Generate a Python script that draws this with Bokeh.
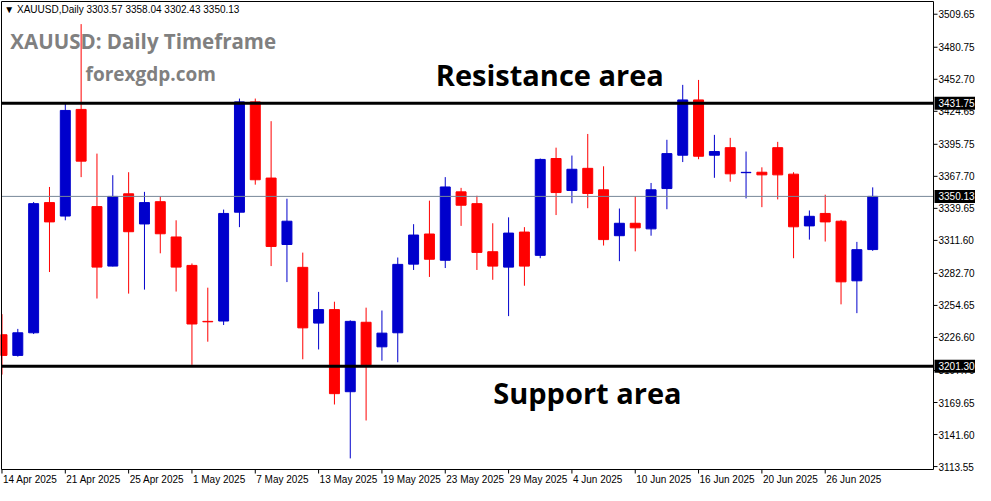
from bokeh.plotting import figure
from bokeh.models import Range1d, Label, ColumnDataSource
from bokeh.core.properties import value
from bokeh.embed import file_html
from bokeh.resources import INLINE

symbol = "XAUUSD"
timeframe = "Daily"

tick_positions = [0, 4, 8, 12, 16, 20, 24, 28, 32, 36, 40, 44, 48, 52]
tick_labels = ["14 Apr 2025", "21 Apr 2025", "25 Apr 2025", "1 May 2025", "7 May 2025",
               "13 May 2025", "19 May 2025", "23 May 2025", "29 May 2025", "4 Jun 2025",
               "10 Jun 2025", "16 Jun 2025", "20 Jun 2025", "26 Jun 2025"]

opens = [3229.0, 3210.9, 3230.7, 3344.7, 3332.9, 3426.3, 3341.2, 3289.1, 3352.4, 3326.0,
         3345.5, 3314.6, 3289.7, 3240.7, 3241.0, 3336.3, 3432.9, 3366.2, 3308.0, 3288.0,
         3239.2, 3251.0, 3179.1, 3239.9, 3218.4, 3230.7, 3290.8, 3317.2, 3294.2, 3354.1,
         3343.8, 3301.7, 3288.2, 3318.9, 3298.5, 3383.3, 3355.3, 3374.7, 3355.9, 3315.7,
         3326.6, 3321.7, 3357.0, 3386.2, 3434.6, 3386.2, 3392.8, 3370.9, 3371.3, 3392.8,
         3369.6, 3324.3, 3335.2, 3328.4, 3276.2, 3303.57]
highs = [3247.0, 3234.1, 3345.2, 3358.4, 3431.7, 3501.0, 3387.6, 3368.7, 3371.3, 3354.1,
         3350.1, 3329.2, 3291.4, 3270.2, 3338.6, 3435.8, 3435.8, 3416.0, 3348.1, 3300.9,
         3266.5, 3257.9, 3241.6, 3252.7, 3250.2, 3296.6, 3325.8, 3346.4, 3367.0, 3357.6,
         3350.7, 3326.6, 3331.8, 3323.2, 3383.3, 3392.8, 3385.9, 3404.8, 3376.5, 3339.5,
         3350.4, 3361.9, 3399.7, 3447.8, 3452.1, 3404.0, 3401.4, 3389.4, 3375.6, 3397.9,
         3371.3, 3337.8, 3351.6, 3329.5, 3310.3, 3358.04]
lows = [3194.1, 3209.8, 3229.6, 3283.9, 3329.2, 3367.0, 3260.7, 3288.8, 3265.0, 3268.5,
        3300.3, 3266.8, 3202.6, 3222.9, 3237.5, 3323.2, 3360.4, 3289.1, 3275.1, 3207.5,
        3216.1, 3167.9, 3120.7, 3153.9, 3206.3, 3204.9, 3285.7, 3279.6, 3287.4, 3324.3,
        3285.7, 3277.1, 3245.3, 3271.9, 3296.0, 3333.8, 3344.1, 3339.8, 3307.1, 3293.4,
        3302.0, 3315.7, 3338.9, 3380.2, 3382.7, 3366.4, 3363.0, 3348.4, 3340.7, 3347.5,
        3296.0, 3312.3, 3310.6, 3255.6, 3247.9, 3302.43]
closes = [3210.9, 3230.7, 3343.8, 3327.8, 3425.4, 3381.0, 3288.2, 3350.1, 3319.2, 3344.7,
          3317.4, 3288.2, 3238.4, 3240.3, 3335.2, 3432.9, 3364.7, 3306.3, 3328.4, 3235.0,
          3251.0, 3177.4, 3240.7, 3202.6, 3230.4, 3290.6, 3316.3, 3295.1, 3358.4, 3342.4,
          3301.1, 3289.1, 3318.0, 3289.1, 3382.5, 3353.5, 3373.9, 3352.7, 3312.3, 3326.6,
          3322.6, 3355.9, 3387.6, 3434.6, 3385.3, 3389.4, 3369.9, 3371.2, 3369.0, 3369.0,
          3323.5, 3332.7, 3327.8, 3275.3, 3303.5, 3350.13]

price_ticks = [3509.65, 3480.75, 3452.70, 3424.65, 3395.75, 3367.70, 3339.65, 3311.60,
               3282.70, 3254.65, 3226.60, 3197.70, 3169.65, 3141.60, 3113.55]

resistance = 3431.75
support = 3201.30

UP = "#0000CC"
DOWN = "#FF0000"
GRAY_TXT = "#808080"
BID = "#778899"
FONT = "Liberation Sans"

# ---- layout (canvas pixels) ----
W, H = 975, 485
CL, CR, CT, CB = 1, 933, 1, 469          # chart box inside the canvas
X0, X1 = -0.03, 58.84                     # visible bars in the chart box
Y0, Y1 = 3110.98, 3520.8                  # visible prices in the chart box
sx = (CR - CL) / (X1 - X0)
sy = (CB - CT) / (Y1 - Y0)
dx = 1.0 / sx                             # one pixel in bar units
dy = 1.0 / sy                             # one pixel in price units

p = figure(width=W, height=H, output_backend="svg", toolbar_location=None,
           x_axis_location=None, y_axis_location=None,
           x_range=Range1d(X0 - CL * dx, X1 + (W - CR) * dx),
           y_range=Range1d(Y0 - (H - CB) * dy, Y1 + CT * dy),
           min_border=0)
p.background_fill_color = "white"
p.border_fill_color = "white"
p.outline_line_color = None
p.grid.visible = False

idx = list(range(len(opens)))
up = [i for i in idx if closes[i] >= opens[i]]
dn = [i for i in idx if closes[i] < opens[i]]

def src(sel):
    return ColumnDataSource(dict(
        x=[idx[i] for i in sel],
        h=[highs[i] for i in sel],
        l=[lows[i] for i in sel],
        top=[max(opens[i], closes[i]) for i in sel],
        bot=[min(opens[i], closes[i]) for i in sel],
    ))

# candles
for s, col in ((src(up), UP), (src(dn), DOWN)):
    p.segment(x0="x", y0="h", x1="x", y1="l", source=s, line_color=col, line_width=1)
    p.vbar(x="x", width=0.63, top="top", bottom="bot", source=s,
           fill_color=col, line_color=col, line_width=1)

# horizontal levels
p.segment(x0=[X0], x1=[X1], y0=[closes[-1]], y1=[closes[-1]], line_color=BID, line_width=1)
p.segment(x0=[X0, X0], x1=[X1, X1], y0=[resistance, support], y1=[resistance, support],
          line_color="black", line_width=3)

# chart frame
p.quad(left=[X0], right=[X1], top=[Y1], bottom=[Y0], fill_color=None,
       line_color="black", line_width=1)

# price scale (right)
n = len(price_ticks)
p.segment(x0=[X1] * n, x1=[X1 + 4 * dx] * n, y0=price_ticks, y1=price_ticks,
          line_color="black", line_width=1)
p.text(x=[X1] * n, y=price_ticks, text=[f"{v:.2f}" for v in price_ticks],
       x_offset=5, text_font=value(FONT), text_font_size=value("10px"),
       text_color="black", text_align="left", text_baseline="middle")

# price tags
tags = [resistance, closes[-1], support]
p.rect(x=[X1 + 21.5 * dx] * 3, y=tags, width=41, height=13,
       width_units="screen", height_units="screen", fill_color="black", line_color=None)
p.text(x=[X1] * 3, y=tags, text=[f"{v:.2f}" for v in tags],
       x_offset=5, text_font=value(FONT), text_font_size=value("10px"),
       text_color="white", text_align="left", text_baseline="middle")

# time scale (bottom)
m = len(tick_positions)
p.segment(x0=tick_positions, x1=tick_positions, y0=[Y0] * m, y1=[Y0 - 4 * dy] * m,
          line_color="black", line_width=1)
p.text(x=tick_positions, y=[Y0] * m, text=tick_labels, x_offset=1, y_offset=4,
       text_font=value(FONT), text_font_size=value("10px"), text_color="black",
       text_align="left", text_baseline="top")

# header
header = f"\u25BC {symbol},{timeframe}  {opens[-1]:.2f} {highs[-1]:.2f} {lows[-1]:.2f} {closes[-1]:.2f}"
p.add_layout(Label(x=0.15, y=3513.9, text=header, text_font=FONT, text_font_size="10px",
                   text_color="black", text_baseline="middle"))

p.add_layout(Label(x=0.53, y=3486.4, text=f"{symbol}: {timeframe} Timeframe", text_font="Open Sans",
                   text_font_style="bold", text_font_size="20.5px", text_color=GRAY_TXT,
                   text_baseline="middle"))
p.add_layout(Label(x=5.28, y=3457.0, text="forexgdp.com", text_font="Open Sans",
                   text_font_style="bold", text_font_size="19px", text_color=GRAY_TXT,
                   text_baseline="middle"))
p.add_layout(Label(x=27.4, y=3457.2, text="Resistance area", text_font="Open Sans",
                   text_font_style="bold", text_font_size="29px", text_color="black",
                   text_baseline="middle"))
p.add_layout(Label(x=31.03, y=3178.0, text="Support area", text_font="Open Sans",
                   text_font_style="bold", text_font_size="29px", text_color="black",
                   text_baseline="middle"))

open("out.html", "w").write(file_html(p, INLINE))
